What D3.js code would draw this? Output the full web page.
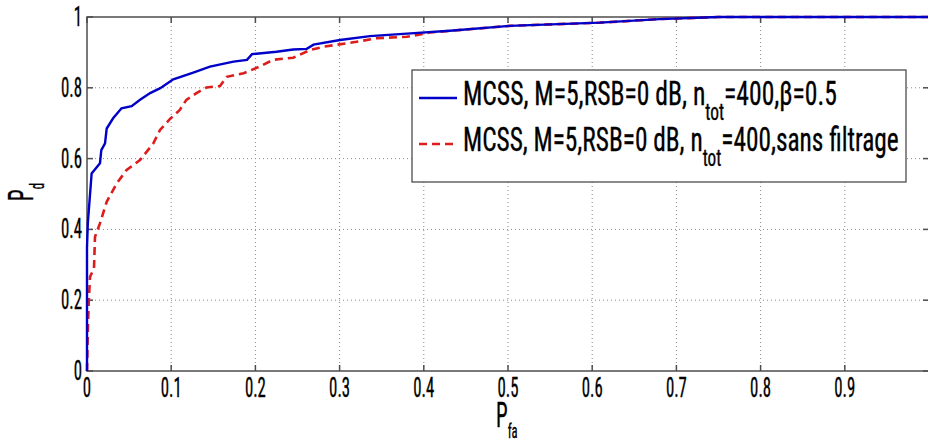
<!DOCTYPE html>
<html><head><meta charset="utf-8">
<script src="https://cdn.jsdelivr.net/npm/d3@7"></script>
<style>body{margin:0;background:#fff}svg{display:block}</style></head>
<body>
<svg id="c" width="928" height="444"></svg>
<script>
// ---------- data ----------
const xTicks = [0,0.1,0.2,0.3,0.4,0.5,0.6,0.7,0.8,0.9];
const xTickLabels = ["0","0.1","0.2","0.3","0.4","0.5","0.6","0.7","0.8","0.9"];
const yTicks = [0,0.2,0.4,0.6,0.8,1];
const yTickLabels = ["0","0.2","0.4","0.6","0.8","1"];

const bluePfa = [0,0,0.001,0.0055,0.0154,0.017,0.0214,0.0234,0.031,0.041,0.053,0.063,0.075,0.087,0.1025,0.1262,0.146,0.174,0.19,0.196,0.225,0.245,0.261,0.269,0.3005,0.336,0.38,0.431,0.502,0.609,0.68,0.75,1];
const bluePd  = [0,0.35,0.418,0.558,0.587,0.624,0.643,0.685,0.714,0.742,0.748,0.766,0.785,0.799,0.824,0.843,0.86,0.874,0.879,0.895,0.902,0.908,0.91,0.922,0.935,0.946,0.953,0.961,0.975,0.984,0.994,1,1];

const redPfa = [0,0.001,0.002,0.0036,0.0083,0.0095,0.0154,0.0234,0.0353,0.0471,0.063,0.0788,0.0867,0.0986,0.11,0.118,0.13,0.142,0.158,0.166,0.186,0.205,0.221,0.245,0.265,0.281,0.32,0.344,0.38,0.407,0.431,0.502,0.609,0.68,0.75,1];
const redPd  = [0,0.116,0.19,0.266,0.29,0.379,0.417,0.478,0.53,0.568,0.596,0.643,0.681,0.712,0.737,0.766,0.785,0.801,0.805,0.831,0.841,0.86,0.879,0.885,0.907,0.916,0.93,0.94,0.944,0.956,0.961,0.975,0.984,0.994,1,1];

const legendMain = "MCSS, M=5,RSB=0 dB, n";
const legendSub = "tot";
const legendTails = ["=400,\u03b2=0.5", "=400,sans filtrage"];
const seriesColors = ["#0000c8", "#dd1c1c"];

// ---------- layout ----------
const FONT = "'Roboto Condensed','DejaVu Sans Condensed',sans-serif";
const svg = d3.select("#c");
const x = d3.scaleLinear().domain([0,1]).range([87,929]);
const y = d3.scaleLinear().domain([0,1]).range([371,17]);

function condText(px, py, anchor, build, size, scaleX) {
  const g = svg.append("g");
  const t = g.append("text").attr("font-family", FONT).attr("font-size", size)
    .attr("fill", "#000").attr("stroke", "#000").attr("stroke-width", 0.35);
  build(t);
  const w = t.node().getComputedTextLength();
  const off = anchor === "end" ? -w : anchor === "middle" ? -w/2 : 0;
  t.attr("x", off).attr("y", 0);
  g.attr("transform", `translate(${px},${py}) scale(${scaleX},1)`);
  return g;
}
function measure(str, size) {
  const t = svg.append("text").attr("font-family", FONT).attr("font-size", size).text(str);
  const w = t.node().getComputedTextLength(); t.remove(); return w;
}

// grid
const grid = svg.append("g").attr("stroke", "#8a8a8a").attr("stroke-width", 1).attr("stroke-dasharray", "1,3");
xTicks.filter(d => d > 0).forEach(d => grid.append("line").attr("x1", x(d)).attr("x2", x(d)).attr("y1", y(0)).attr("y2", y(1)));
yTicks.filter(d => d > 0 && d < 1).forEach(d => grid.append("line").attr("x1", x(0)).attr("x2", x(1)).attr("y1", y(d)).attr("y2", y(d)));

// axes frame + inward ticks
const ax = svg.append("g").attr("stroke", "#4d4d4d").attr("stroke-width", 1.5).attr("fill", "none");
ax.append("rect").attr("x", x(0)).attr("y", y(1)).attr("width", x(1)-x(0)).attr("height", y(0)-y(1));
xTicks.forEach(d => {
  ax.append("line").attr("x1", x(d)).attr("x2", x(d)).attr("y1", y(0)).attr("y2", y(0)-6);
  ax.append("line").attr("x1", x(d)).attr("x2", x(d)).attr("y1", y(1)).attr("y2", y(1)+6);
});
yTicks.forEach(d => {
  ax.append("line").attr("x1", x(0)).attr("x2", x(0)+6).attr("y1", y(d)).attr("y2", y(d));
  ax.append("line").attr("x1", x(1)).attr("x2", x(1)-6).attr("y1", y(d)).attr("y2", y(d));
});

// curves
const line = d3.line().x(d => x(d[0])).y(d => y(d[1]));
svg.append("clipPath").attr("id", "pa").append("rect").attr("x", x(0)-2).attr("y", y(1)-2).attr("width", x(1)-x(0)+4).attr("height", y(0)-y(1)+4);
svg.append("path").datum(redPfa.map((v,i)=>[v, redPd[i]])).attr("d", line)
  .attr("fill","none").attr("stroke", seriesColors[1]).attr("stroke-width", 2.6).attr("stroke-dasharray","8,5").attr("clip-path","url(#pa)");
svg.append("path").datum(bluePfa.map((v,i)=>[v, bluePd[i]])).attr("d", line)
  .attr("fill","none").attr("stroke", seriesColors[0]).attr("stroke-width", 2.4).attr("clip-path","url(#pa)");

// tick labels
const TS = 28;
const tickScale = 21 / measure("0.8", TS);
xTicks.forEach((d,i) => condText(x(d), 397, "middle", t => t.text(xTickLabels[i]), TS, tickScale));
yTicks.forEach((d,i) => condText(82, y(d)+9, "end", t => t.text(yTickLabels[i]), TS, tickScale));

// axis labels
condText(496, 427, "start", t => {
  t.append("tspan").attr("font-size", 35).text("P");
  t.append("tspan").attr("font-size", 21).attr("dy", 11).text("fa");
}, 35, tickScale);
const yl = svg.append("g").attr("transform", "translate(33,201) rotate(-90)");
(function(){
  const t = yl.append("text").attr("font-family", FONT).attr("fill","#000").attr("stroke","#000").attr("stroke-width",0.35);
  t.append("tspan").attr("font-size", 35).text("P");
  t.append("tspan").attr("font-size", 21).attr("dy", 11).text("d");
  t.attr("transform", `scale(${tickScale},1)`);
})();

// legend
svg.append("rect").attr("x", 412).attr("y", 70).attr("width", 494).attr("height", 112)
  .attr("fill", "#fff").attr("stroke", "#4d4d4d").attr("stroke-width", 1.3);
const legY = [105, 151];
const legTargetW = [374, 436];
legendTails.forEach((tail, i) => {
  const sw = svg.append("line").attr("x1", 419).attr("x2", 457).attr("y1", legY[i]-7).attr("y2", legY[i]-7)
    .attr("stroke", seriesColors[i]).attr("stroke-width", 2.4);
  if (i === 1) sw.attr("stroke-dasharray", "8,5");
  const build = t => {
    t.append("tspan").text(legendMain);
    t.append("tspan").attr("font-size", 23).attr("dy", 15).text(legendSub);
    t.append("tspan").attr("dy", -15).text(tail);
  };
  const tmp = svg.append("text").attr("font-family", FONT).attr("font-size", 34);
  build(tmp); const w = tmp.node().getComputedTextLength(); tmp.remove();
  condText(463, legY[i], "start", build, 34, legTargetW[i] / w);
});
</script>
</body></html>
